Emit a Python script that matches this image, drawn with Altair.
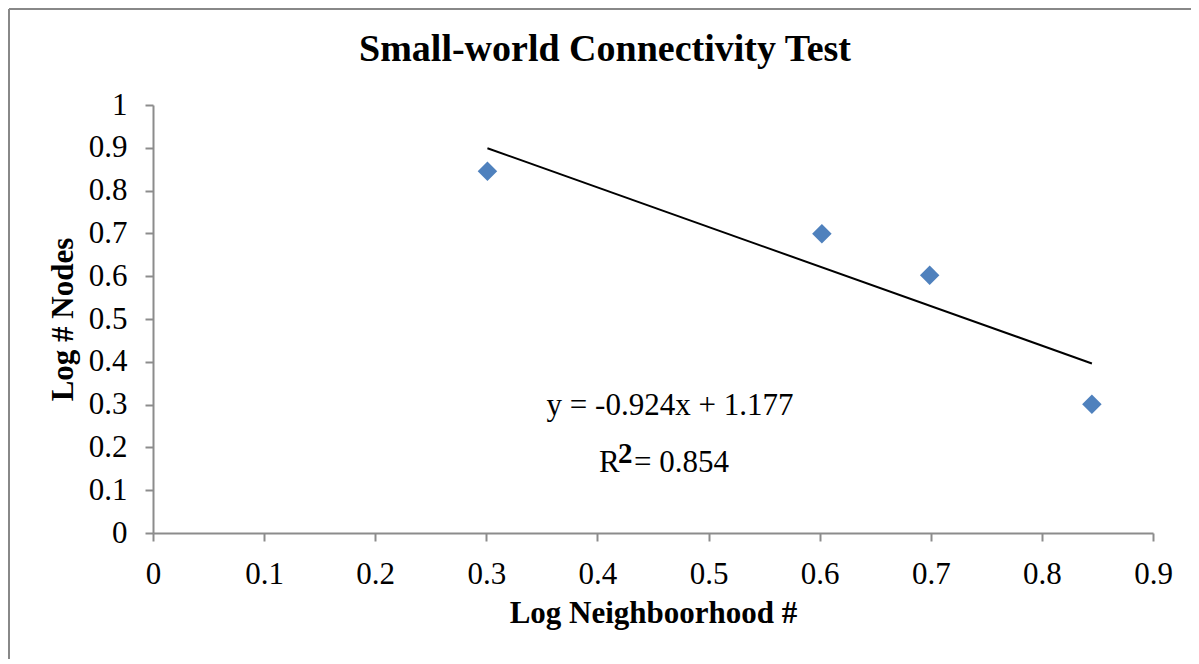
import altair as alt
import pandas as pd

# ---- data ----
log_neighborhood = [0.301, 0.602, 0.699, 0.845]
log_nodes = [0.845, 0.699, 0.602, 0.301]
x_tick_values = [0, 0.1, 0.2, 0.3, 0.4, 0.5, 0.6, 0.7, 0.8, 0.9]
y_tick_values = [0, 0.1, 0.2, 0.3, 0.4, 0.5, 0.6, 0.7, 0.8, 0.9, 1]
chart_title = "Small-world Connectivity Test"
x_title = "Log Neighboorhood #"
y_title = "Log # Nodes"
equation_text = "y = -0.924x + 1.177"
r2_label = "R"
r2_exponent = "2"
r2_value = "= 0.854"

# annotation anchors (data coordinates)
eq_x, eq_y = 0.4653, 0.2757
r2_x, r2_y = 0.4014, 0.1425

FONT = "Liberation Serif"
AXIS_GRAY = "#8c8c8c"
W, H = 1000, 428
PAD = {"left": 145, "top": 97, "right": 38, "bottom": 126}

df = pd.DataFrame({"x": log_neighborhood, "y": log_nodes})

xscale = alt.Scale(domain=[0, 0.9], nice=False, zero=False)
yscale = alt.Scale(domain=[0, 1], nice=False, zero=False)

x_enc = alt.X("x:Q", scale=xscale,
              axis=alt.Axis(values=x_tick_values, format="~g", title=x_title,
                            titlePadding=9, labelFlush=False, labelOverlap=False))
y_enc = alt.Y("y:Q", scale=yscale,
              axis=alt.Axis(values=y_tick_values, format="~g", title=y_title,
                            titlePadding=9, labelFlush=False, labelOverlap=False))

points = alt.Chart(df).mark_point(
    shape="diamond", filled=True, size=380, color="#4F81BD", opacity=1
).encode(x=x_enc, y=y_enc)

trend = alt.Chart(df).transform_regression("x", "y").mark_line(
    color="black", strokeWidth=2
).encode(x=x_enc, y=y_enc)

eq_df = pd.DataFrame({"x": [eq_x], "y": [eq_y], "t": [equation_text]})
eq = alt.Chart(eq_df).mark_text(
    font=FONT, fontSize=31, color="black", align="center", baseline="alphabetic"
).encode(x=x_enc, y=y_enc, text="t:N")

r_df = pd.DataFrame({"x": [r2_x], "y": [r2_y], "r": [r2_label],
                     "e": [r2_exponent], "v": [r2_value]})
r_text = alt.Chart(r_df).mark_text(
    font=FONT, fontSize=31, color="black", align="left", baseline="alphabetic"
).encode(x=x_enc, y=y_enc, text="r:N")
e_text = alt.Chart(r_df).mark_text(
    font=FONT, fontSize=29, fontWeight="bold", color="black", align="left",
    baseline="alphabetic", dx=19, dy=-9
).encode(x=x_enc, y=y_enc, text="e:N")
v_text = alt.Chart(r_df).mark_text(
    font=FONT, fontSize=31, color="black", align="left", baseline="alphabetic", dx=35
).encode(x=x_enc, y=y_enc, text="v:N")

# outer chart-area border (top and left edges visible in the reference)
one = pd.DataFrame({"d": [0]})
border_top = alt.Chart(one).mark_rule(color="#888888", strokeWidth=2).encode(
    x=alt.value(-PAD["left"] + 1), x2=alt.value(W + PAD["right"]),
    y=alt.value(-PAD["top"] + 1))
border_left = alt.Chart(one).mark_rule(color="#888888", strokeWidth=2).encode(
    x=alt.value(-PAD["left"] + 1), y=alt.value(-PAD["top"] + 1),
    y2=alt.value(H + PAD["bottom"]))

chart = alt.layer(
    border_top, border_left, trend, points, eq, r_text, e_text, v_text
).properties(
    width=W, height=H,
    autosize=alt.AutoSizeParams(type="none"),
    padding=PAD,
    title=alt.TitleParams(text=chart_title, font=FONT, fontSize=38,
                          fontWeight="bold", color="black", anchor="middle",
                          baseline="alphabetic", dx=-48, offset=-91),
    background="white",
).configure_view(stroke=None).configure_axis(
    grid=False,
    domainColor=AXIS_GRAY, domainWidth=2,
    tickColor=AXIS_GRAY, tickWidth=2, tickSize=8,
    labelFont=FONT, labelFontSize=31, labelColor="black", labelPadding=18,
    titleFont=FONT, titleFontSize=31, titleFontWeight="bold", titleColor="black",
)

chart.save("out.html", embed_options={"renderer": "svg", "actions": False})
